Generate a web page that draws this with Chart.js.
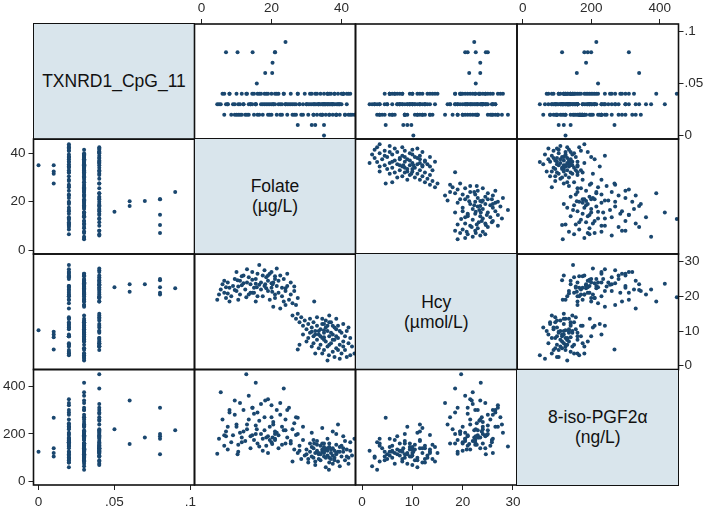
<!DOCTYPE html>
<html>
<head>
<meta charset="utf-8">
<script src="https://cdn.jsdelivr.net/npm/chart.js@4.4.1/dist/chart.umd.min.js"></script>
<style>
  html, body { margin: 0; padding: 0; background: #fff; }
  #wrap { position: relative; width: 709px; height: 510px; overflow: hidden; }
  #wrap canvas { position: absolute; left: 0; top: 0; pointer-events: none; }
  .diag {
    position: absolute; box-sizing: border-box; background: #d9e5ec; border: 1.6px solid #111;
    display: flex; align-items: center; justify-content: center; text-align: center;
    font: 17.5px "Liberation Sans", Arial, sans-serif; line-height: 20px; color: #111; white-space: pre;
  }
</style>
</head>
<body>
<div id="wrap"></div>
<script>
// variable names shown on the diagonal
const varLabels = ['TXNRD1_CpG_11', 'Folate\n(µg/L)', 'Hcy\n(µmol/L)', '8-iso-PGF2α\n(ng/L)']

// one entry per subject, same order in every array
// (high Hcy subjects, then low Hcy subjects, then the few odd CpG values)
const cpg = [
  0.03,0.03,0.03,0.04,0.02,0.03,0.03,0.04,0.02,0.03,
  0.02,0.04,0.03,0.03,0.02,0.04,0.03,0.02,0.04,0.04,
  0.02,0.03,0.03,0.04,0.02,0.03,0.03,0.04,0.02,0.02,
  0.03,0.04,0.02,0.04,0.03,0.04,0.02,0.03,0.03,0.04,
  0.02,0.03,0.04,0.03,0.02,0.03,0.04,0.03,0.02,0.03,
  0.04,0.03,0.02,0.03,0.04,0.02,0.03,0.03,0.04,0.03,
  0.02,0.03,0.04,0.02,0.03,0.04,0.03,0.02,0.03,0.03,
  0.04,0.03,0.02,0.03,0.04,0.04,0.02,0.04,0.03,0.02,
  0.03,0.04,0.03,0.03,0.02,0.03,
  0.03,0.02,0.04,0.03,0.02,0.03,0.04,0.03,0.02,0.03,
  0.04,0.03,0.02,0.03,0.04,0.03,0.02,0.03,0.04,0.03,
  0.02,0.03,0.04,0.03,0.02,0.03,0.04,0.03,0.03,0.03,
  0.04,0.03,0.02,0.03,0.04,0.03,0.02,0.03,0.04,0.03,
  0.02,0.03,0.04,0.04,0.02,0.04,0.04,0.02,0.02,0.02,
  0.03,0.03,0.02,0.03,0.04,0.03,0.02,0.03,0.04,0.02,
  0.02,0.03,0.04,0.03,0.02,0.03,0.04,0.03,0.02,0.03,
  0.04,0.03,0.02,0.03,0.04,0.03,0.02,0.03,0.04,0.03,
  0.02,0.03,0.03,0.04,0.02,0.03,
  0.00,0.01,0.01,0.01,0.01,0.05,0.06,0.06,0.07,0.08,
  0.08,0.08,0.08,0.08,0.09,0.03
]
const folate = [
  5.0,5.5,4.5,6.0,6.5,7.0,7.5,8.0,8.5,9.0,
  9.5,10.0,10.5,11.0,11.0,11.5,12.0,12.5,12.8,13.0,
  13.5,14.0,14.0,14.5,15.0,15.5,15.5,16.0,16.0,16.5,
  17.0,17.0,17.5,18.0,18.0,18.5,19.0,19.0,19.5,20.0,
  20.0,20.5,21.0,21.0,21.5,22.0,22.0,22.5,23.0,23.0,
  23.5,24.0,24.5,25.0,25.5,26.0,26.5,27.0,27.5,20.5,
  22.5,24.0,8.0,10.5,13.5,15.0,17.5,19.5,12.0,14.5,
  16.5,18.5,11.5,9.5,6.5,21.5,13.0,23.5,25.5,26.5,
  7.5,19.0,15.5,24.5,10.0,20.0,
  26.0,27.0,27.5,28.0,28.5,29.0,29.5,30.0,30.5,31.0,
  31.0,31.5,32.0,32.0,32.5,33.0,33.0,33.5,34.0,34.0,
  34.5,34.5,35.0,35.0,35.5,35.5,36.0,36.0,36.4,36.5,
  37.0,37.0,37.5,37.5,38.0,38.0,38.5,38.5,39.0,39.0,
  39.5,40.0,40.0,40.5,41.0,41.5,42.0,42.5,43.0,43.7,
  36.0,33.5,34.5,35.5,36.5,37.5,38.5,39.5,40.5,41.0,
  42.0,30.0,31.5,32.5,29.0,28.0,33.0,35.0,36.5,37.0,
  38.0,39.0,34.0,35.0,36.0,37.5,38.5,39.5,40.5,33.5,
  32.0,30.5,41.5,42.5,36.5,34.5,
  35.0,27.5,31.5,32.5,35.0,15.8,18.2,20.2,20.3,7.0,
  10.3,14.6,21.0,21.0,24.0,32.2
]
const hcy = [
  20.5,22.0,19.0,23.5,21.0,19.5,24.0,22.5,20.0,23.0,
  25.0,21.5,22.8,24.5,20.5,23.2,26.0,22.0,19.7,24.0,
  25.5,21.0,23.5,27.0,22.5,23.6,25.0,20.0,26.5,29.0,
  24.0,22.0,26.0,27.5,23.0,25.5,21.5,24.5,26.5,22.5,
  27.0,24.0,19.5,25.8,23.0,21.0,24.5,26.0,20.0,22.5,
  18.5,21.5,23.0,19.0,20.5,18.0,21.5,17.5,19.5,17.0,
  16.5,17.5,18.5,19.0,20.5,21.0,20.0,19.0,23.8,24.8,
  23.3,22.3,25.8,21.8,24.5,28.0,27.8,25.0,24.0,22.8,
  20.8,26.0,18.5,26.5,27.0,23.8,
  14.5,13.5,15.0,12.5,14.0,11.5,13.0,10.5,12.0,9.5,
  13.5,11.0,8.5,12.5,10.0,7.5,11.5,9.0,6.0,10.5,
  12.0,8.0,4.5,9.5,11.0,7.0,5.5,10.0,3.0,8.5,
  6.5,12.5,4.0,9.0,7.5,2.5,10.5,5.0,8.0,11.5,
  6.0,3.5,9.5,7.0,4.5,10.0,6.5,3.0,5.5,3.5,
  1.5,5.0,3.5,13.0,14.5,11.5,13.5,2.0,12.0,8.5,
  11.0,7.0,5.5,3.5,9.0,6.0,14.0,12.0,6.0,9.5,
  11.0,4.5,8.5,7.5,11.5,7.5,8.5,10.0,5.5,10.0,
  6.5,8.0,2.5,8.0,12.5,13.5,
  10.2,4.7,9.8,9.0,8.2,22.6,23.5,21.3,23.5,22.6,
  24.6,21.0,20.5,25.0,22.3,18.5
]
const pgf = [
  180,375,117,260,150,210,230,300,165,195,
  280,240,155,330,205,185,300,170,450,220,
  260,190,140,310,175,415,235,160,290,147,
  200,325,180,270,215,150,345,190,230,165,
  320,250,210,175,300,195,140,280,230,155,
  390,260,185,310,170,220,135,270,200,240,
  330,160,290,125,360,285,130,175,210,195,
  255,185,165,340,195,205,240,215,160,245,
  135,120,200,300,230,270,
  85,196,120,150,95,175,110,135,80,160,
  125,205,100,140,70,130,170,115,150,90,
  225,125,105,145,60,135,180,110,50,160,
  120,95,140,75,130,100,155,115,85,240,
  125,150,105,190,90,135,75,165,110,180,
  130,95,160,100,145,210,120,65,140,170,
  100,115,145,85,230,130,155,120,100,135,
  90,125,115,160,140,110,200,145,125,120,
  175,95,105,130,80,135,
  125,268,105,120,140,220,340,158,185,190,
  115,310,180,200,215,160
]

// tick labels for each variable
const tickValues = [[0, 0.05, 0.1], [0, 20, 40], [0, 10, 20, 30], [0, 200, 400]]

// axis ranges (as a column / as a row)
const xRange = [[-0.0033, 0.1027], [-2.0, 44.0], [-1.3, 30.8], [-16.7, 455]]
const yRange = [[-0.0034, 0.1072], [-1.65, 45.9], [-1.1, 32.2], [-14, 470]]

const columns = [cpg, folate, hcy, pgf]

const W = 709, H = 510
// room kept for the outer axes on each side
const AX = { left: 32, right: 30, top: 24, bottom: 25 }
const PAD = { left: 3, right: 1, top: 3, bottom: 4 }
const colEdges = [33.5, 194.5, 355.5, 517, 678.5]
const rowEdges = [24, 139, 254, 369.5, 485]
const navy = '#1a476f'

Chart.defaults.font.family = '"Liberation Sans", Arial, sans-serif'
Chart.defaults.font.size = 13.5

function fmt(v) {
    if (v === 0) return '0'
    return String(+v.toFixed(2)).replace(/^0\./, '.')
}

const cellBorder = {
    id: 'cellBorder',
    afterDraw(chart) {
        const a = chart.chartArea
        const ctx = chart.ctx
        ctx.save()
        ctx.strokeStyle = '#111'
        ctx.lineWidth = 1.6
        ctx.strokeRect(a.left, a.top, a.right - a.left, a.bottom - a.top)
        ctx.restore()
    }
}

function axis(v, range, pos, show, isX) {
    return {
        type: 'linear',
        position: pos,
        min: range[0],
        max: range[1],
        display: show,
        afterBuildTicks: s => { s.ticks = tickValues[v].map(t => ({ value: t })) },
        afterFit: s => {
            if (isX) s.height = show ? AX[pos] : 0
            else s.width = show ? AX[pos] : 0
        },
        grid: { display: show, drawOnChartArea: false, drawTicks: true, tickLength: 5, color: '#222', lineWidth: 1 },
        border: { display: false },
        ticks: { display: show, color: '#2b2b2b', padding: PAD[pos], maxRotation: 0, autoSkip: false, callback: val => fmt(val) }
    }
}

let wrap = document.getElementById('wrap')

for (let r = 0; r < 4; r++) {
    for (let c = 0; c < 4; c++) {
        if (r === c) {
            let box = document.createElement('div')
            box.className = 'diag'
            box.style.left = (colEdges[c] - 0.8) + 'px'
            box.style.top = (rowEdges[r] - 0.8) + 'px'
            box.style.width = (colEdges[c + 1] - colEdges[c] + 1.6) + 'px'
            box.style.height = (rowEdges[r + 1] - rowEdges[r] + 1.6) + 'px'
            box.textContent = varLabels[r]
            wrap.appendChild(box)
            continue
        }

        let canvas = document.createElement('canvas')
        canvas.width = W
        canvas.height = H
        wrap.appendChild(canvas)

        // which outer axes carry ticks
        let xTop = r === 0 && (c === 1 || c === 3)
        let xBottom = r === 3 && (c === 0 || c === 2)
        let yRight = c === 3 && (r === 0 || r === 2)
        let yLeft = c === 0 && (r === 1 || r === 3)

        let points = columns[c].map((v, i) => ({ x: v, y: columns[r][i] }))

        new Chart(canvas, {
            type: 'scatter',
            data: {
                datasets: [{
                    data: points,
                    backgroundColor: navy,
                    borderWidth: 0,
                    pointRadius: 2,
                    pointHoverRadius: 2
                }]
            },
            options: {
                responsive: false,
                animation: false,
                devicePixelRatio: 1,
                events: [],
                layout: {
                    padding: {
                        left: colEdges[c] - (yLeft ? AX.left : 0),
                        right: W - colEdges[c + 1] - (yRight ? AX.right : 0),
                        top: rowEdges[r] - (xTop ? AX.top : 0),
                        bottom: H - rowEdges[r + 1] - (xBottom ? AX.bottom : 0)
                    }
                },
                plugins: { legend: { display: false }, tooltip: { enabled: false } },
                scales: {
                    x: axis(c, xRange[c], xTop ? 'top' : 'bottom', xTop || xBottom, true),
                    y: axis(r, yRange[r], yRight ? 'right' : 'left', yLeft || yRight, false)
                }
            },
            plugins: [cellBorder]
        })
    }
}
</script>
</body>
</html>
